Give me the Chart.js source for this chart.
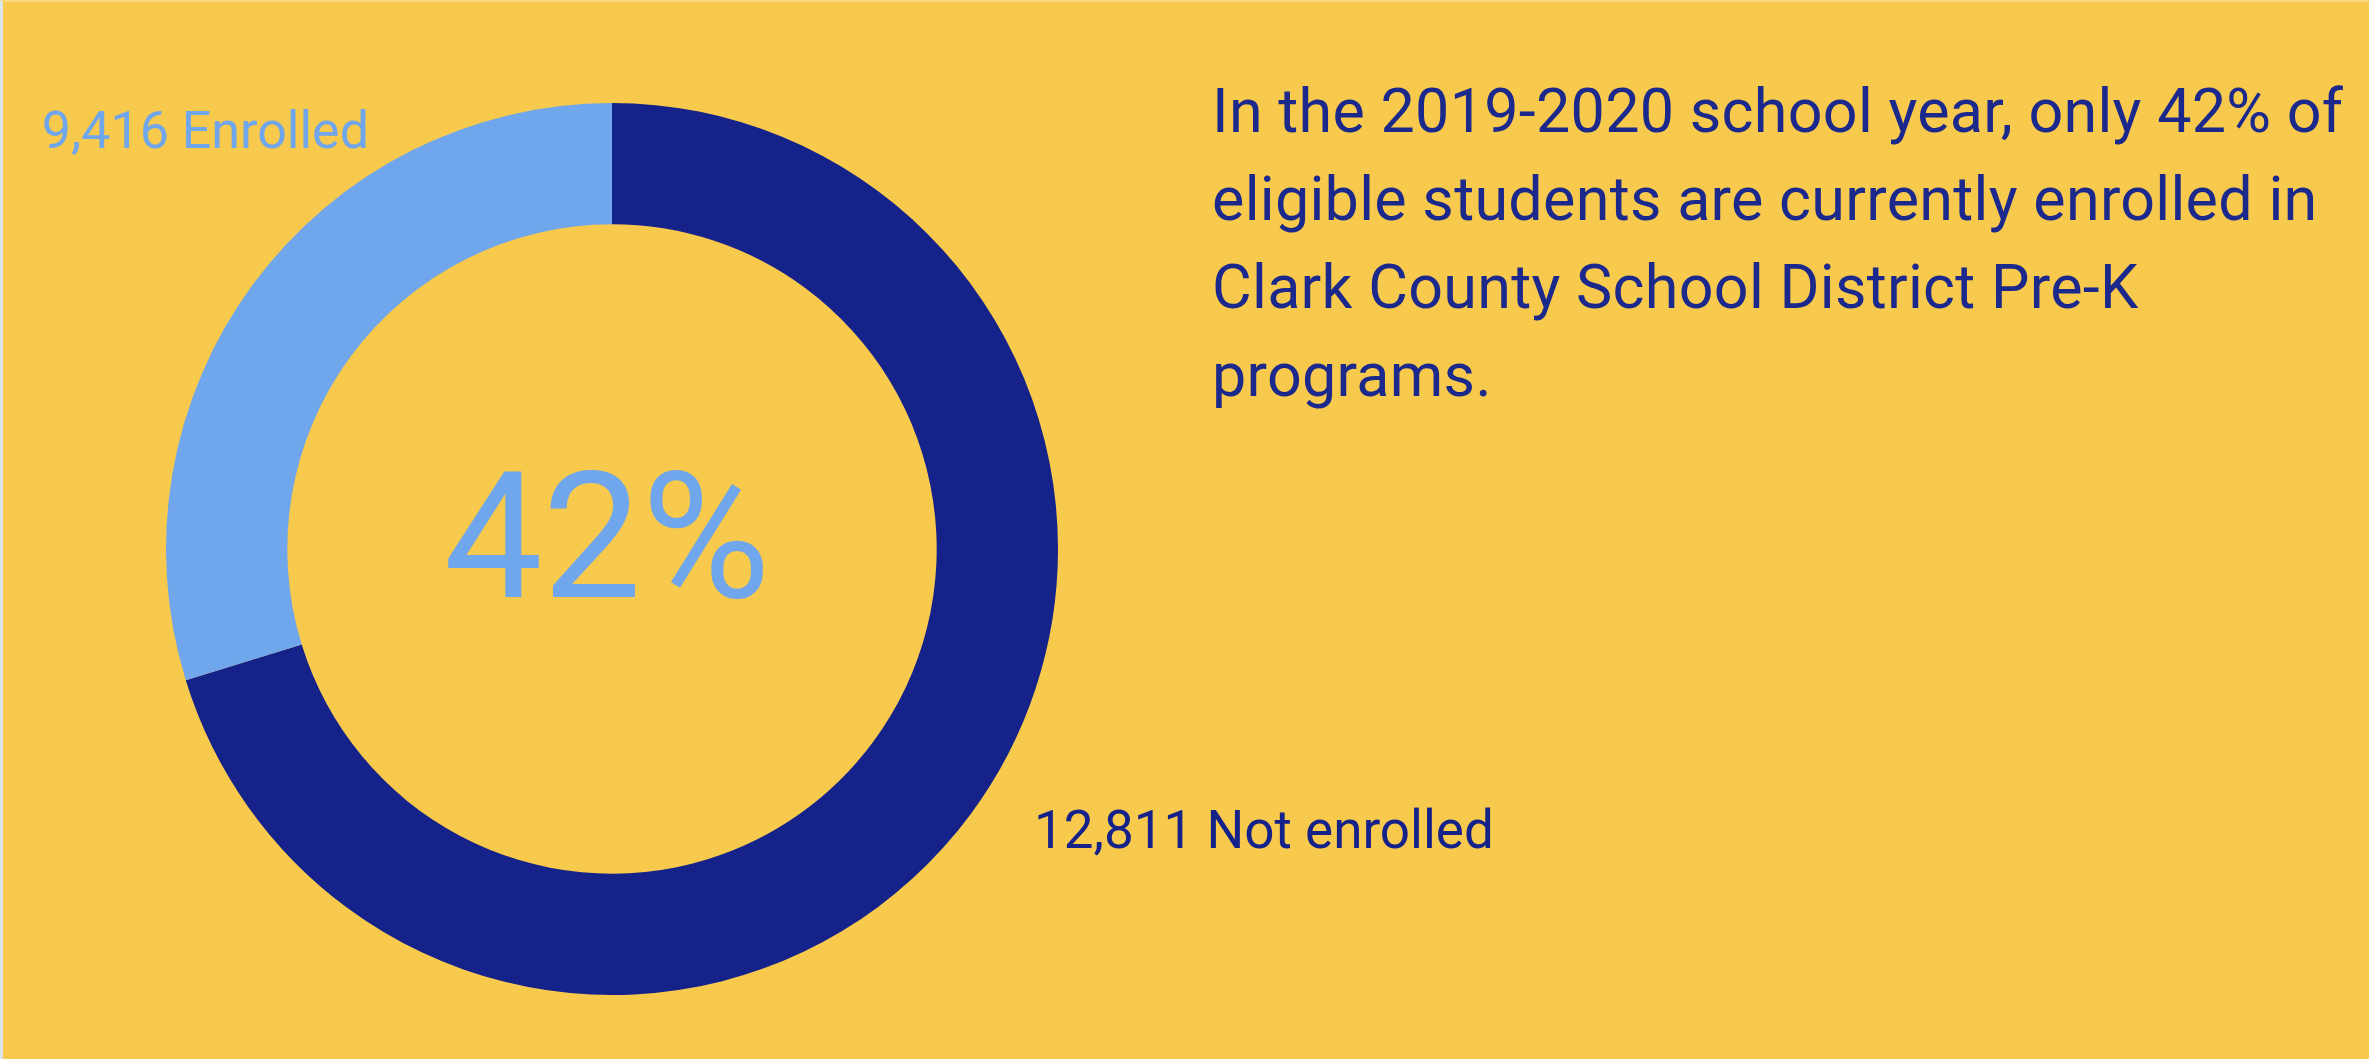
<!DOCTYPE html>
<html>
<head>
<meta charset="utf-8">
<script src="https://cdn.jsdelivr.net/npm/chart.js@4"></script>
<style>
  html, body {
    margin: 0;
    padding: 0;
    width: 2369px;
    height: 1059px;
    overflow: hidden;
    background: #f7c94d;
    font-family: Roboto, "Noto Sans", sans-serif;
  }
  .frame {
    position: absolute;
    left: 0;
    top: 0;
    width: 2366px;
    height: 1057px;
    border-left: 3px solid #dde3ea;
    border-top: 2px solid #f9d77c;
  }
  #chartPreK {
    position: absolute;
    left: 0;
    top: 0;
  }
  .note {
    position: absolute;
    left: 1212px;
    top: 67px;
    font-size: 61px;
    line-height: 88px;
    letter-spacing: 0.3px;
    color: #1b288c;
    white-space: nowrap;
  }
</style>
</head>
<body>
<div class="frame"></div>
<canvas id="chartPreK" width="2369" height="1059"></canvas>
<div class="note">
  In the 2019-2020 school year, only 42% of<br>
  eligible students are currently enrolled in<br>
  Clark County School District Pre-K<br>
  programs.
</div>

<script>
/*
  Pre-K enrollment ring
  - the ring in the source is drawn as enrolled vs. all eligible students
    (9,416 of 22,227), the text labels carry the real split
*/
const sliceNames = ["Not enrolled", "Enrolled"];
const sliceValues = [22227, 9416];
const sliceColors = ["#15228a", "#6fa6ec"];
const sliceLabels = ["12,811 Not enrolled", "9,416 Enrolled"];
const centerLabel = "42%";

/* draws the big percentage and the two slice captions */
const ringText = {
  id: "ringText",
  afterDatasetsDraw(chart) {
    const ctx = chart.ctx;
    const arc = chart.getDatasetMeta(0).data[0];
    const cx = arc.x;
    const cy = arc.y;

    ctx.save();
    ctx.textBaseline = "alphabetic";

    ctx.fillStyle = sliceColors[1];
    ctx.font = "400 176px Roboto";
    ctx.textAlign = "center";
    ctx.fillText(centerLabel, cx - 5, cy + 48);

    ctx.font = "400 52px Roboto";
    ctx.textAlign = "right";
    ctx.fillText(sliceLabels[1], cx - 243, cy - 401);

    ctx.fillStyle = sliceColors[0];
    ctx.font = "400 53px Roboto";
    ctx.textAlign = "left";
    ctx.fillText(sliceLabels[0], cx + 422, cy + 299);
    ctx.restore();
  }
};

document.addEventListener("DOMContentLoaded", function(event) {
  new Chart("chartPreK", {
    type: "doughnut",
    data: {
      labels: sliceNames,
      datasets: [{
        data: sliceValues,
        backgroundColor: sliceColors,
        borderWidth: 0
      }]
    },
    options: {
      responsive: false,
      animation: false,
      devicePixelRatio: 1,
      cutout: "72.8%",
      rotation: 0,
      layout: {
        padding: {left: 166, right: 1311, top: 103, bottom: 64}
      },
      plugins: {
        legend: {display: false},
        tooltip: {enabled: false}
      }
    },
    plugins: [ringText]
  });
});
</script>
</body>
</html>
